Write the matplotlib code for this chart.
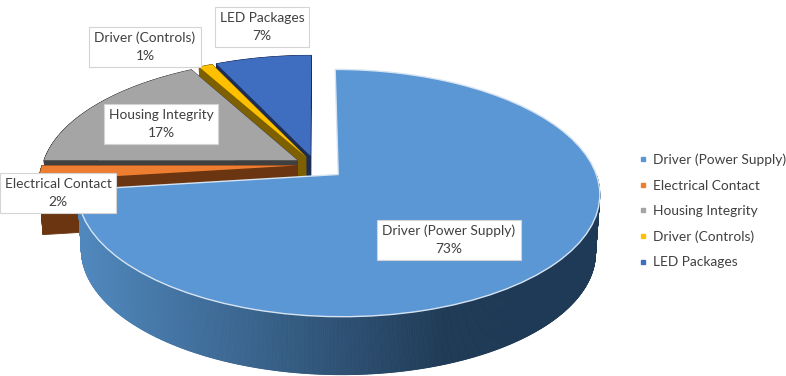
import numpy as np
import matplotlib
matplotlib.use("Agg")
import matplotlib.pyplot as plt
from matplotlib.collections import PolyCollection
from matplotlib.lines import Line2D
from matplotlib.transforms import Transform
from matplotlib.colors import to_rgb

categories = ["Driver (Power Supply)", "Electrical Contact", "Housing Integrity",
              "Driver (Controls)", "LED Packages"]
values = [73, 2, 17, 1, 7]
explode = [0.12, 0.07, 0.08, 0.08, 0.08]
colors = ["#5b97d5", "#ed7d31", "#a5a5a5", "#ffc000", "#3f6dbf"]
wall_colors = ["#2a4d70", "#6a3510", "#404040", "#7f6000", "#1b2c55"]
label_pos = [(449, 240), (58, 193), (161, 124), (145, 47), (262, 27)]

CX, CY, RX, RY, P = 315.0, 165.0, 255.0, 118.0, 0.1486
DEPTH_MAIN, DEPTH_BACK, SHRINK = 58.0, 54.0, 0.985


class Persp(Transform):
    input_dims = output_dims = 2
    is_separable = False
    has_inverse = False

    def transform_non_affine(self, xy):
        xy = np.asarray(xy, float)
        s = 1.0 / (1.0 + P * xy[:, 1])
        return np.column_stack([CX + RX * xy[:, 0] * s, CY - RY * xy[:, 1] * s])


persp = Persp()

plt.rcParams["font.family"] = ["Lato", "DejaVu Sans"]
fig = plt.figure(figsize=(7.86, 3.76), dpi=100)
ax = fig.add_axes([0, 0, 1, 1])
wedges, _ = ax.pie(values, explode=explode, startangle=90, counterclock=False,
                   colors=colors, frame=True)
ax.set_aspect("auto")
ax.set_xlim(0, 786)
ax.set_ylim(376, 0)
ax.axis("off")


def arc(w):
    t = np.radians(np.arange(w.theta1, w.theta2 + 0.25, 0.25))
    t[-1] = np.radians(w.theta2)
    return np.column_stack([w.center[0] + w.r * np.cos(t), w.center[1] + w.r * np.sin(t)])


def quads(pts, depth):
    px = persp.transform_non_affine(pts)
    low = px + [0, depth]
    low[:, 0] = CX + (low[:, 0] - CX) * SHRINK
    return [np.array([px[i], px[i + 1], low[i + 1], low[i]]) for i in range(len(px) - 1)]


# painter's order: back slices first, the big slice last
for z, i in enumerate([4, 3, 2, 1, 0]):
    w = wedges[i]
    if i == 0:
        a = arc(w)
        a = a[a[:, 1] < w.center[1]]          # only the front of the rim can be seen
        q = quads(a, DEPTH_MAIN)
        c0, c1 = np.array(to_rgb("#5088bd")), np.array(to_rgb("#1f3a56"))
        fc = [c0 + (c1 - c0) * np.clip((p[:, 0].mean() - 85) / 360, 0, 1) for p in q]
    else:
        a = arc(w)
        q = quads(np.vstack([[w.center], a, [w.center]]), DEPTH_BACK)
        fc = wall_colors[i]
    ax.add_collection(PolyCollection(q, facecolors=fc, edgecolors=fc if i else "face",
                                     linewidths=0.6, zorder=2 + 2 * z))
    w.set_transform(persp + ax.transData)
    w.set_zorder(3 + 2 * z)
    if i == 0:
        w.set_edgecolor("#d6e4f2")
        w.set_linewidth(1.0)

for name, v, (x, y) in zip(categories, values, label_pos):
    ax.text(x, y, f"{name}\n{v}%", ha="center", va="center", fontsize=9.9, color="#404040",
            linespacing=1.6, zorder=30,
            bbox=dict(boxstyle="square,pad=0.36", fc="white", ec="#d4d4d4", lw=0.8))

handles = [Line2D([], [], ls="", marker="s", ms=2.8, color=c, label=n)
           for n, c in zip(categories, colors)]
ax.legend(handles=handles, loc="center left", bbox_to_anchor=(638 / 786, 1 - 211 / 376),
          frameon=False, fontsize=9.9, labelcolor="#404040", labelspacing=0.98,
          handlelength=0.7, handletextpad=0.42, borderpad=0, borderaxespad=0)

fig.savefig("out.png", dpi=100, facecolor="white")
